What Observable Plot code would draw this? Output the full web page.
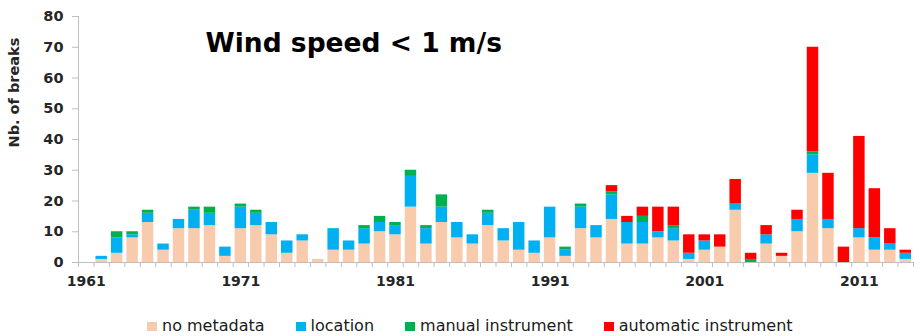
<!DOCTYPE html>
<html>
<head>
<meta charset="utf-8">
<script src="https://cdn.jsdelivr.net/npm/d3@7"></script>
<script src="https://cdn.jsdelivr.net/npm/@observablehq/plot@0.6"></script>
<style>
  html, body { margin: 0; padding: 0; background: #fff; }
  body { width: 922px; height: 336px; overflow: hidden; position: relative; font-family: "DejaVu Sans", sans-serif; }
  #legend { position: absolute; left: 147px; top: 317px; display: flex; align-items: center; font-size: 16px; line-height: 18px; color: #1a1a1a; }
  #legend .item { display: flex; align-items: center; margin-right: 31px; }
  #legend .sw { width: 10px; height: 9px; margin-right: 5px; }
</style>
</head>
<body>
<div id="chart"></div>
<div id="legend"></div>
<script>
const title = "Wind speed < 1 m/s";
const yLabel = "Nb. of breaks";
const years = d3.range(1961, 2015);
const labelYears = [1961, 1971, 1981, 1991, 2001, 2011];
const yTicks = [0, 10, 20, 30, 40, 50, 60, 70, 80];
const cats = ["no metadata", "location", "manual instrument", "automatic instrument"];
const colors = ["#F8CBAD", "#00B0F0", "#00B050", "#FF0000"];

const noMetadata = [0,1,3,8,13,4,11,11,12,2, 11,12,9,3,7,1,4,4,6,10, 9,18,6,13,8,6,12,7,4,3, 8,2,11,8,14,6,6,8,7,1, 4,5,17,0,6,2,10,29,11,0, 8,4,4,1];
const locationChange = [0,1,5,1,3,2,3,6,4,3, 7,4,4,4,2,0,7,3,5,3, 3,10,5,5,5,3,4,4,9,4, 10,2,7,4,8,7,7,2,4,2, 3,0,2,0,3,0,4,6,3,0, 3,4,2,2];
const manualInstrument = [0,0,2,1,1,0,0,1,2,0, 1,1,0,0,0,0,0,0,1,2, 1,2,1,4,0,0,1,0,0,0, 0,1,1,0,1,0,2,0,1,0, 0,0,0,1,0,0,0,1,0,0, 0,0,0,0];
const automaticInstrument = [0,0,0,0,0,0,0,0,0,0, 0,0,0,0,0,0,0,0,0,0, 0,0,0,0,0,0,0,0,0,0, 0,0,0,0,2,2,3,8,6,6, 2,4,8,2,3,1,3,34,15,5, 30,16,5,1];

const series = [noMetadata, locationChange, manualInstrument, automaticInstrument];
const rows = years.flatMap((year, i) => cats.map((cat, j) => ({year, cat, value: series[j][i]})));
const boundaries = years.map(y => y - 0.5).concat([years[years.length - 1] + 0.5]);

const grey = "#BFBFBF";
const textColor = "#262626";
const font = "'DejaVu Sans', sans-serif";

const chart = Plot.plot({
  width: 922,
  height: 300,
  marginLeft: 78,
  marginRight: 9,
  marginTop: 16,
  marginBottom: 38,
  style: {fontFamily: font, background: "#fff"},
  x: {domain: [boundaries[0], boundaries[boundaries.length - 1]], axis: null},
  y: {domain: [0, 80], axis: null},
  color: {domain: cats, range: colors},
  marks: [
    Plot.rectY(rows, Plot.stackY({
      x: "year",
      x1: d => d.year - 0.5,
      x2: d => d.year + 0.5,
      y: "value",
      fill: "cat",
      order: cats,
      insetLeft: 2,
      insetRight: 2
    })),
    Plot.ruleY([0], {stroke: grey}),
    Plot.ruleX([boundaries[0]], {stroke: grey}),
    Plot.axisY({ticks: yTicks, tickSize: 6, tickFormat: () => "", stroke: grey, label: null}),
    Plot.axisY({ticks: yTicks, tickSize: 0, tickPadding: 15, fontSize: 14.5, fontWeight: "bold", fill: textColor, label: null}),
    Plot.axisX({ticks: boundaries, tickSize: 5, tickFormat: () => "", stroke: grey, label: null}),
    Plot.axisX({ticks: labelYears, tickSize: 0, tickPadding: 14, tickFormat: d => String(d), fontSize: 14, fontWeight: "bold", fill: textColor, label: null}),
    Plot.text([yLabel], {frameAnchor: "left", rotate: -90, dx: -64, dy: 8, fontSize: 14.5, fontWeight: "bold", fill: textColor}),
    Plot.text([title], {frameAnchor: "top-left", dx: 127, dy: 27, textAnchor: "start", lineAnchor: "middle", fontSize: 26.5, fontWeight: "bold", fill: "#000"})
  ]
});
document.getElementById("chart").appendChild(chart);

const legend = document.getElementById("legend");
cats.forEach((c, i) => {
  const item = document.createElement("div");
  item.className = "item";
  const sw = document.createElement("span");
  sw.className = "sw";
  sw.style.background = colors[i];
  const label = document.createElement("span");
  label.textContent = c;
  item.appendChild(sw);
  item.appendChild(label);
  legend.appendChild(item);
});
</script>
</body>
</html>
